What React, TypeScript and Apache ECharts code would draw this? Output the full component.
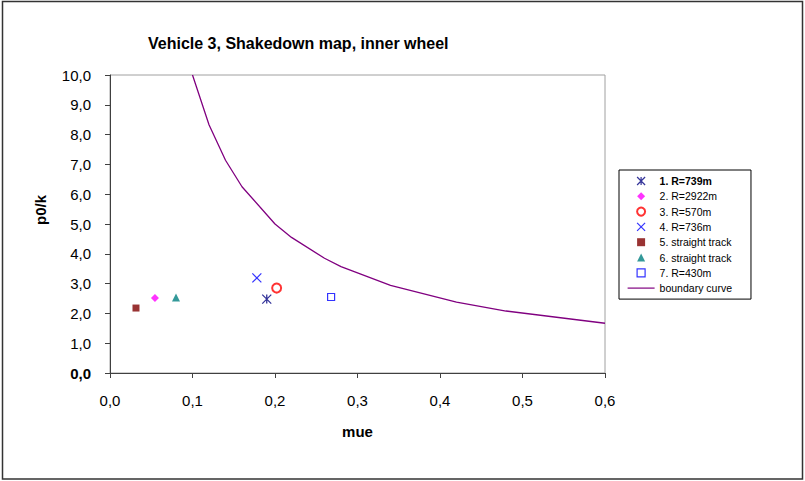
import React, { useEffect, useRef } from "react";
import * as echarts from "echarts";

const FONT = "'Liberation Sans', Arial, sans-serif";

const titleText = "Vehicle 3, Shakedown map, inner wheel";
const xName = "mue";
const yName = "p0/k";

const seriesNames = [
  "1. R=739m",
  "2. R=2922m",
  "3. R=570m",
  "4. R=736m",
  "5. straight track",
  "6. straight track",
  "7. R=430m",
  "boundary curve",
];

const pt1 = [[0.19, 2.48]];
const pt2 = [[0.0545, 2.52]];
const pt3 = [[0.202, 2.85]];
const pt4 = [[0.178, 3.19]];
const pt5 = [[0.0315, 2.18]];
const pt6 = [[0.08, 2.53]];
const pt7 = [[0.268, 2.55]];

const boundaryMue = [0.1, 0.12, 0.14, 0.16, 0.2, 0.22, 0.26, 0.28, 0.34, 0.42, 0.48, 0.6];
const boundaryP = [10.0, 8.33, 7.14, 6.25, 5.0, 4.55, 3.85, 3.57, 2.94, 2.38, 2.08, 1.67];

const xTicks = { min: 0, max: 0.6, interval: 0.1 };
const yTicks = { min: 0, max: 10, interval: 1 };

const ASTERISK = "path://M0,0L10,10M10,0L0,10M5,0L5,10";
const CROSS = "path://M0,0L10,10M10,0L0,10";
const SQUARE = "path://M0,0L10,0L10,10L0,10Z";
const DIAMOND = "path://M5,0L10,5L5,10L0,5Z";
const TRIANGLE = "path://M5,0L10,10L0,10Z";

const fmt = (v: number) => v.toFixed(1).replace(".", ",");

export default function App() {
  const ref = useRef<HTMLDivElement>(null);
  useEffect(() => {
    document.body.style.margin = "0";
    if (!ref.current) return;
    const chart = echarts.init(ref.current, undefined, { renderer: "svg" });
    const boundary = boundaryMue.map((m, i) => [m, boundaryP[i]]);
    const scatterBase = { type: "scatter" as const, symbolKeepAspect: true };
    chart.setOption({
      animation: false,
      backgroundColor: "#ffffff",
      textStyle: { fontFamily: FONT },
      title: {
        text: titleText,
        left: 148,
        top: 35,
        padding: 0,
        textStyle: { fontFamily: FONT, fontSize: 16, fontWeight: "bold", color: "#000" },
      },
      grid: {
        left: 110,
        top: 75,
        width: 495,
        height: 298,
        show: true,
        borderColor: "#a0a0a0",
        borderWidth: 1,
        backgroundColor: "#ffffff",
      },
      legend: {
        orient: "vertical",
        left: 619,
        top: 170,
        padding: [5, 19, 5, 8],
        itemWidth: 27,
        itemHeight: 8,
        itemGap: 3.3,
        borderColor: "#000",
        borderWidth: 1,
        backgroundColor: "#fff",
        symbolKeepAspect: true,
        itemStyle: { borderWidth: 1.2 },
        lineStyle: { width: 1.2 },
        data: [
          ...seriesNames.slice(0, 7).map((n) => ({ name: n })),
          { name: seriesNames[7], itemStyle: { opacity: 0, color: "transparent", borderColor: "transparent" } },
        ],
        formatter: (name: string) => (name === seriesNames[0] ? `{b|${name}}` : name),
        textStyle: {
          fontFamily: FONT,
          fontSize: 10.5,
          lineHeight: 12,
          color: "#000",
          rich: { b: { fontFamily: FONT, fontSize: 10.5, fontWeight: "bold", lineHeight: 12 } },
        },
      },
      xAxis: {
        type: "value",
        ...xTicks,
        name: xName,
        nameLocation: "middle",
        nameGap: 51,
        nameTextStyle: { fontFamily: FONT, fontSize: 15, fontWeight: "bold", color: "#000" },
        axisLine: { show: true, onZero: false, lineStyle: { color: "#404040", width: 1 } },
        axisTick: { show: true, length: 5, lineStyle: { color: "#404040" } },
        splitLine: { show: false },
        axisLabel: {
          formatter: (v: number) => fmt(v),
          margin: 20,
          fontFamily: FONT,
          fontSize: 15,
          color: "#000",
        },
      },
      yAxis: {
        type: "value",
        ...yTicks,
        name: yName,
        nameLocation: "middle",
        nameGap: 62,
        nameRotate: 90,
        nameTextStyle: {
          fontFamily: FONT,
          fontSize: 15,
          fontWeight: "bold",
          color: "#000",
          padding: [0, 0, 0, 28],
        },
        axisLine: { show: true, onZero: false, lineStyle: { color: "#404040", width: 1 } },
        axisTick: { show: true, length: 5, lineStyle: { color: "#404040" } },
        splitLine: { show: false },
        axisLabel: {
          formatter: (v: number) => (v === 0 ? `{b|${fmt(v)}}` : fmt(v)),
          margin: 19,
          fontFamily: FONT,
          fontSize: 15,
          color: "#000",
          rich: { b: { fontFamily: FONT, fontSize: 15, fontWeight: "bold", color: "#000" } },
        },
      },
      series: [
        {
          ...scatterBase,
          name: seriesNames[0],
          data: pt1,
          symbol: ASTERISK,
          symbolSize: 9,
          itemStyle: { color: "#000080", borderColor: "#000080", borderWidth: 1.3 },
        },
        {
          ...scatterBase,
          name: seriesNames[1],
          data: pt2,
          symbol: DIAMOND,
          symbolSize: 8,
          itemStyle: { color: "#ff00ff" },
        },
        {
          ...scatterBase,
          name: seriesNames[2],
          data: pt3,
          symbol: "emptyCircle",
          symbolSize: 9,
          itemStyle: { color: "#ff0000", borderWidth: 1.2 },
        },
        {
          ...scatterBase,
          name: seriesNames[3],
          data: pt4,
          symbol: CROSS,
          symbolSize: 9,
          itemStyle: { color: "#0000ff", borderColor: "#0000ff", borderWidth: 1.2 },
        },
        {
          ...scatterBase,
          name: seriesNames[4],
          data: pt5,
          symbol: SQUARE,
          symbolSize: 7,
          itemStyle: { color: "#800000" },
        },
        {
          ...scatterBase,
          name: seriesNames[5],
          data: pt6,
          symbol: TRIANGLE,
          symbolSize: 8,
          itemStyle: { color: "#008080" },
        },
        {
          ...scatterBase,
          name: seriesNames[6],
          data: pt7,
          symbol: SQUARE,
          symbolSize: 7,
          itemStyle: { color: "#ffffff", borderColor: "#0000ff", borderWidth: 1.2 },
        },
        {
          type: "line",
          name: seriesNames[7],
          data: boundary,
          symbol: "none",
          lineStyle: { color: "#800080", width: 1.3 },
          itemStyle: { color: "#800080" },
        },
      ],
      graphic: [
        {
          type: "rect",
          shape: { x: 2.5, y: 1.5, width: 800, height: 477.5 },
          style: { fill: "none", stroke: "#333", lineWidth: 1.5 },
          silent: true,
          z: 100,
        },
      ],
    });
    return () => chart.dispose();
  }, []);
  return <div ref={ref} style={{ width: 805, height: 481 }} />;
}
